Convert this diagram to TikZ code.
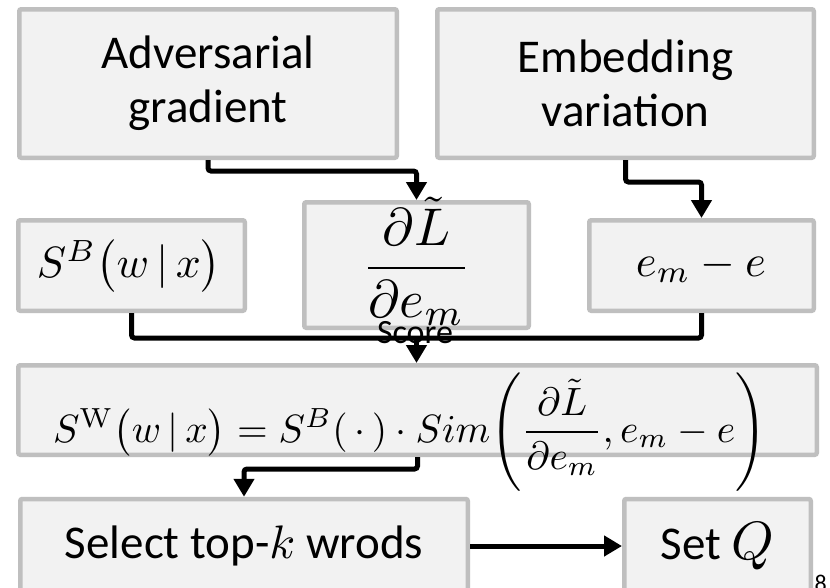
\documentclass[tikz,border=0pt]{standalone}
\usepackage[no-math]{fontspec}
\setmainfont{Carlito}
\usepackage{amsmath}
\usepackage{graphicx}
\usetikzlibrary{arrows.meta}
\definecolor{boxfill}{HTML}{F2F2F2}
\definecolor{boxline}{HTML}{BFBFBF}
\newcommand\mth[2]{\scalebox{#1}{\fontsize{10}{12}\selectfont$#2$}}
\begin{document}
\begin{tikzpicture}[x=1pt,y=-1pt,
  box/.style={draw=boxline, fill=boxfill, line width=4.5pt, rounded corners=2pt, inner sep=0pt},
  txt/.style={font=\fontsize{47}{54}\selectfont, align=center},
  mtxt/.style={inner sep=0pt, anchor=base},
  conn/.style={line width=5pt, rounded corners=3pt, -{Triangle[width=20pt,length=18pt]}},
  wire/.style={line width=5pt, rounded corners=3pt}]
\clip (0,0) rectangle (830,587);
\fill[white] (0,0) rectangle (830,587);
% boxes
\node[box, txt, minimum width=377.5pt, minimum height=148.5pt] (adv) at (208,83.5) {Adversarial\\gradient};
\node[box, txt, minimum width=376.5pt, minimum height=148.5pt] (emb) at (625.5,83.5) {Embedding\\variation};
\node[box, minimum width=226.5pt, minimum height=90.5pt] (sb) at (131.5,265.5) {};
\node[box, minimum width=224.5pt, minimum height=125.5pt] (frac) at (416.5,265) {};
\node[box, minimum width=224.5pt, minimum height=90.5pt] (emm) at (701.5,265.5) {};
\node[box, minimum width=798.5pt, minimum height=89.5pt] (big) at (417.5,410) {};
\node[box, txt, minimum width=447.5pt, minimum height=94pt] (sel) at (244,546) {Select top-\mth{4.7}{k} wrods};
\node[box, txt, minimum width=186.5pt, minimum height=94pt] (setq) at (717.5,546) {Set \mth{5.4}{Q}};
% formulas
\node[mtxt] (sbt) at (129,277) {\resizebox{184pt}{!}{$S^{B}\bigl(w\,|\,x\bigr)$}};
\node[mtxt] (fract) at (416.5,281.25) {\mth{5.3}{\dfrac{\partial\tilde{L}}{\partial e_m}}};
\node[mtxt] (emmt) at (701,276) {\resizebox{130pt}{!}{$e_m-e$}};
\node[mtxt, anchor=base west] (bigt) at (53,442) {\resizebox{713pt}{!}{$S^{\mathrm{W}}\bigl(w\,|\,x\bigr)=S^{B}(\,\cdot\,)\cdot Sim\mathopen{}\left(\dfrac{\partial\tilde{L}}{\partial e_m},e_m-e\right)$}};
\node[font=\fontsize{34}{40}\selectfont, anchor=base, inner sep=0pt] (score) at (415,343) {Score};
% connectors
\draw[conn] (adv.south) -- ++(0,11) -| (frac.north);
\draw[conn] (emb.south) -- ++(0,22) -| (emm.north);
\coordinate (j) at (416.5,338);
\draw[wire] (sb.south) |- (j) -| (emm.south);
\draw[conn] (j) -- (j |- big.north);
\draw[conn] (big.south) -- ++(0,12) -| (sel.north);
\draw[conn] (sel.east) -- (setq.west);
\node[font=\fontsize{24}{28}\selectfont, anchor=base west, inner sep=0pt] (pg) at (814.5,591) {8};
\end{tikzpicture}
\end{document}
